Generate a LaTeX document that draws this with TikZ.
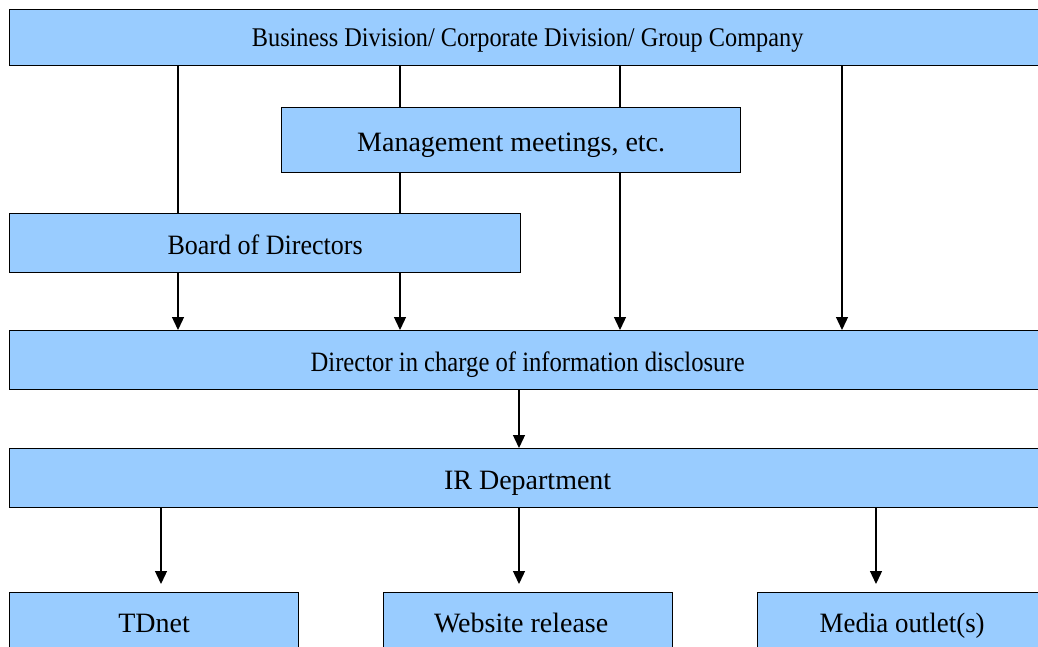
\documentclass[tikz,border=0pt]{standalone}
\usepackage{fontspec}
\setmainfont{Liberation Serif}
\usetikzlibrary{arrows.meta}
\definecolor{boxblue}{HTML}{99CCFF}

\begin{document}
\begin{tikzpicture}[x=1pt, y=-1pt, >={Triangle[width=12pt,length=13pt]},
  box/.style={draw=black, fill=boxblue, line width=1.3pt, anchor=north west,
    inner sep=0pt, text height=27pt, text depth=4pt,
    font=\fontsize{28}{32}\selectfont},
  link/.style={line width=1.3pt},
  flow/.style={line width=1.3pt, ->}]

  \useasboundingbox (0,0) rectangle (1038,646);
  \clip (0,0) rectangle (1038,646);

  % --- 1. boxes ---
  \node[box, minimum width=1036pt, minimum height=56pt, text height=22pt,
    font=\fontsize{27}{32}\selectfont] (division) at (9,9)
    {\scalebox{0.9}[1]{Business Division/ Corporate Division/ Group Company}};
  \node[box, minimum width=459pt, minimum height=65pt] (meeting) at (281,107)
    {Management meetings, etc.};
  \node[box, minimum width=511pt, minimum height=59pt] (board) at (9,213)
    {\scalebox{0.93}[1]{Board of Directors}};
  \node[box, minimum width=1036pt, minimum height=59pt] (director) at (9,330)
    {\scalebox{0.88}[1]{Director in charge of information disclosure}};
  \node[box, minimum width=1036pt, minimum height=59pt] (ir) at (9,448)
    {IR Department};
  \node[box, minimum width=289pt, minimum height=57pt] (tdnet) at (9,592)
    {TDnet};
  \node[box, minimum width=289pt, minimum height=57pt] (website) at (383,592)
    {Website release\hspace*{14pt}};
  \node[box, minimum width=289pt, minimum height=57pt] (media) at (757,592)
    {\scalebox{0.96}[1]{Media outlet(s)}};

  % --- 2. columns of the connectors ---
  \coordinate (c1) at (178,0);
  \coordinate (c2) at (400,0);
  \coordinate (c3) at (620,0);
  \coordinate (c4) at (842,0);
  \coordinate (c5) at (519,0);
  \coordinate (d1) at (161,0);
  \coordinate (d2) at (519,0);
  \coordinate (d3) at (876,0);

  % --- 3. reporting lines ---
  \draw[link] (division.south -| c1) -- (board.north -| c1);
  \draw[link] (division.south -| c2) -- (meeting.north -| c2);
  \draw[link] (division.south -| c3) -- (meeting.north -| c3);
  \draw[flow] (division.south -| c4) -- (director.north -| c4);
  \draw[link] (meeting.south -| c2) -- (board.north -| c2);
  \draw[flow] (meeting.south -| c3) -- (director.north -| c3);
  \draw[flow] (board.south -| c1) -- (director.north -| c1);
  \draw[flow] (board.south -| c2) -- (director.north -| c2);
  \draw[flow] (director.south -| c5) -- (ir.north -| c5);

  % --- 4. release channels ---
  \draw[flow, shorten >=8pt] (ir.south -| d1) -- (tdnet.north -| d1);
  \draw[flow, shorten >=8pt] (ir.south -| d2) -- (website.north -| d2);
  \draw[flow, shorten >=8pt] (ir.south -| d3) -- (media.north -| d3);

\end{tikzpicture}
\end{document}
